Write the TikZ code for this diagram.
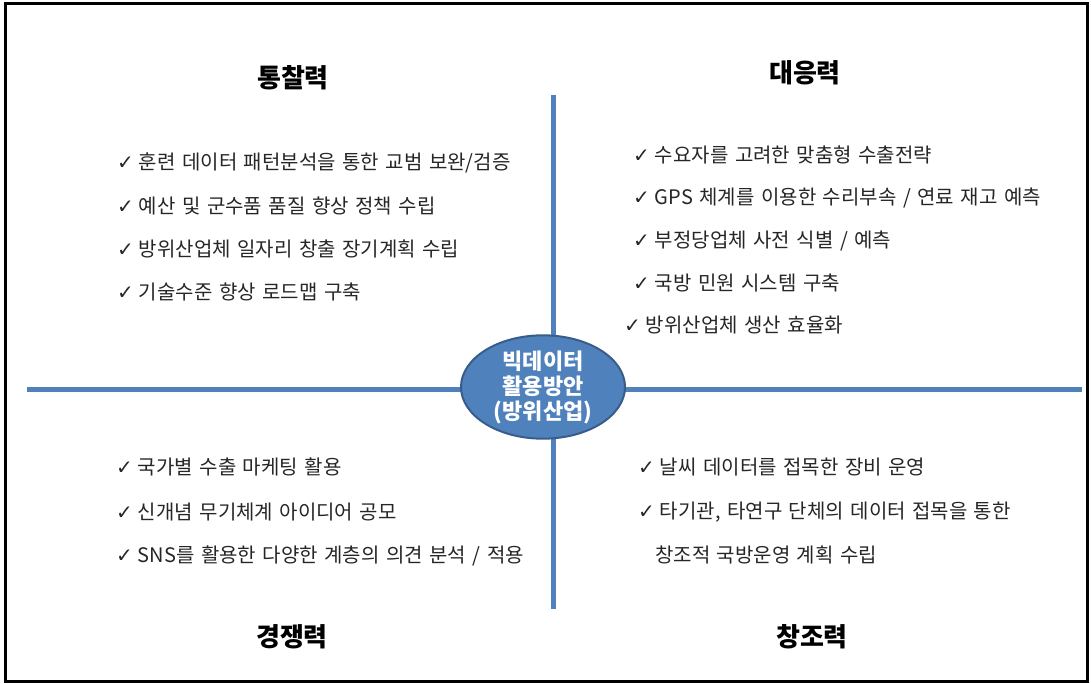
\documentclass[tikz,border=0pt]{standalone}
\usepackage{fontspec}
\setmainfont{Noto Sans CJK KR}
\newfontfamily\itemfont[WordSpace=1.45]{Noto Sans CJK KR}
\newfontfamily\chkfont{DejaVu Sans}
\definecolor{axisblue}{HTML}{4F81BD}
\definecolor{ringblue}{HTML}{385D8A}
\newcommand{\ck}{{\chkfont\fontsize{20pt}{20pt}\selectfont ✓}\hspace{5pt}}
\tikzset{
  item/.style={anchor=west, inner sep=0pt, font=\itemfont\fontsize{20pt}{20pt}\selectfont, text=black!85},
  head/.style={anchor=center, inner sep=0pt, font=\fontsize{26pt}{26pt}\selectfont\bfseries},
  axis/.style={axisblue, line width=5pt},
  hub/.style={ellipse, draw=ringblue, line width=2pt, fill=axisblue, minimum width=164pt, minimum height=100pt, inner sep=0pt, text=white, font=\fontsize{22pt}{25pt}\selectfont\bfseries, align=center}
}
\usetikzlibrary{shapes.geometric}
\begin{document}
\begin{tikzpicture}[x=1pt, y=-1pt]
\useasboundingbox (0,0) rectangle (1091,684);
\draw[line width=3pt, black] (5,4) rectangle (1087,681);
% axes
\coordinate (L) at (27,389);
\coordinate (R) at (1082,389);
\coordinate (T) at (553,95);
\coordinate (B) at (553,609);
\draw[axis] (L) -- (R);
\draw[axis] (T) -- (B);
\node[hub] (hub) at (543,387) {빅데이터\\활용방안\\(방위산업)};
% headings
\node[head] (h1) at (293,78) {통찰력};
\node[head] (h2) at (805,73) {대응력};
\node[head] (h3) at (292,637) {경쟁력};
\node[head] (h4) at (812,637) {창조력};
% top-left
\node[item] (a1) at (117,163) {\ck 훈련 데이터 패턴분석을 통한 교범 보완/검증};
\node[item] (a2) at (117,206) {\ck 예산 및 군수품 품질 향상 정책 수립};
\node[item] (a3) at (117,249) {\ck 방위산업체 일자리 창출 장기계획 수립};
\node[item] (a4) at (117,292) {\ck 기술수준 향상 로드맵 구축};
% top-right
\node[item] (b1) at (633,155) {\ck 수요자를 고려한 맞춤형 수출전략};
\node[item] (b2) at (633,198) {\ck GPS 체계를 이용한 수리부속 / 연료 재고 예측};
\node[item] (b3) at (633,241) {\ck 부정당업체 사전 식별 / 예측};
\node[item] (b4) at (633,283) {\ck 국방 민원 시스템 구축};
\node[item] (b5) at (624,325) {\ck 방위산업체 생산 효율화};
% bottom-left
\node[item] (c1) at (116,467) {\ck 국가별 수출 마케팅 활용};
\node[item] (c2) at (116,512) {\ck 신개념 무기체계 아이디어 공모};
\node[item] (c3) at (116,556) {\ck SNS를 활용한 다양한 계층의 의견 분석 / 적용};
% bottom-right
\node[item] (d1) at (638,467) {\ck 날씨 데이터를 접목한 장비 운영};
\node[item] (d2) at (638,512) {\ck 타기관, 타연구 단체의 데이터 접목을 통한};
\node[item] (d3) at (655,555) {창조적 국방운영 계획 수립};
\end{tikzpicture}
\end{document}
